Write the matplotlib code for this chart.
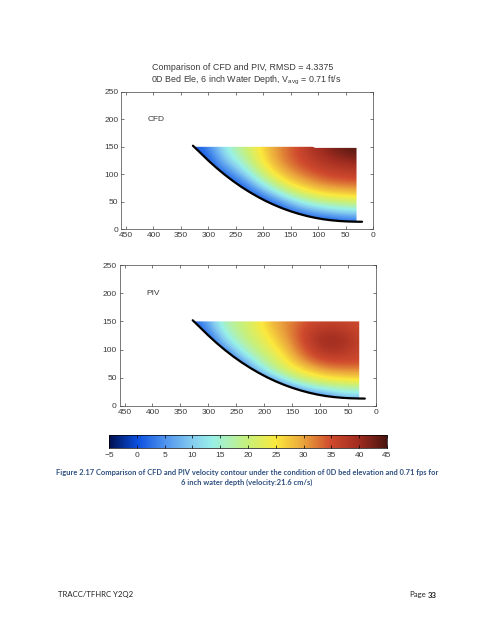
import numpy as np
import matplotlib
matplotlib.use("Agg")
import matplotlib.pyplot as plt
from matplotlib.colors import LinearSegmentedColormap
from matplotlib.patches import Polygon

plt.rcParams['font.family'] = ['Liberation Sans', 'DejaVu Sans']

W, H = 495, 640

# bed curve
bed_x = [328, 315, 300, 285, 270, 255, 240, 225, 210, 195, 180, 165, 150, 135, 120, 105, 90, 75, 60, 45, 30, 20]
bed_y = [152, 139.5, 125, 111.5, 99, 87.5, 77, 67.5, 58.8, 50.9, 43.9, 37.7, 32.3, 27.6, 23.6, 20.3, 17.7, 15.8, 14.5, 13.7, 13.3, 13.2]

x_stations = [330, 300, 270, 240, 210, 180, 150, 120, 90, 60, 30]
y_stations = [0, 15, 30, 45, 60, 75, 90, 105, 120, 135, 150]

# rows are y_stations, columns are x_stations
cfd_rows = [
    [0, 0, 0, 0, 0, 0, 0, 0, 0, 0, 0],
    [0, 0, 0, 0, 0, 0, 0, 0, 0, 2, 3],
    [0, 0, 0, 0, 0, 0, 1, 5, 8, 10, 11],
    [0, 0, 0, 0, 0, 1, 8, 13.5, 16.5, 18, 19],
    [0, 0, 0, 0, 1, 9, 16.5, 21, 24, 25, 26],
    [0, 0, 0, 0, 8, 17, 23, 27, 29.5, 30.5, 31],
    [0, 0, 0, 5, 15, 22.5, 28, 31, 33.5, 34.5, 35],
    [0, 0, 3, 11, 19.5, 26.5, 31, 34, 36, 37, 37.5],
    [0, 0, 8, 15, 22.5, 29, 33, 36, 38, 39.5, 40.5],
    [0, 2, 11.5, 18, 24, 30, 34, 37, 40, 42, 43],
    [0, 4, 13.5, 19, 24.5, 30.5, 33.5, 37.5, 41, 43, 44.5],
]
piv_rows = [
    [0, 0, 0, 0, 0, 0, 0, 0, 0, 0, 0],
    [0, 0, 0, 0, 0, 0, 0, 0, 3, 9, 10],
    [0, 0, 0, 0, 0, 0, 4, 11, 14, 16, 16],
    [0, 0, 0, 0, 0, 6, 16, 20, 23, 24, 25],
    [0, 0, 0, 0, 7, 17, 22, 26, 29, 30, 30],
    [0, 0, 0, 3, 15, 20.5, 26, 31, 34, 34.5, 34.5],
    [0, 0, 0, 11.5, 18.5, 22.5, 29, 34.5, 37, 37, 35.5],
    [0, 0, 6.5, 16, 20.5, 25, 31, 36, 39.5, 39, 36],
    [0, 0, 12, 18.5, 22, 27, 32, 37, 40, 39.5, 36],
    [0, 4, 15.5, 19.5, 23.5, 28.5, 32.5, 36.5, 38, 37.5, 35.5],
    [0, 7, 17, 20, 24, 29.5, 32, 35, 36, 36, 35],
]

tick_x = [450, 400, 350, 300, 250, 200, 150, 100, 50, 0]
tick_y = [0, 50, 100, 150, 200, 250]
cbar_ticks = [-5, 0, 5, 10, 15, 20, 25, 30, 35, 40, 45]

cmap = LinearSegmentedColormap.from_list('bar', [
    (0.0, '#00104f'), (0.10, '#0a4fe0'), (0.20, '#4f93ee'), (0.30, '#86cdf0'),
    (0.37, '#98f0e8'), (0.50, '#c8f07a'), (0.60, '#fbe93e'), (0.70, '#eaa43c'),
    (0.80, '#cf4a2e'), (0.90, '#a02c20'), (1.0, '#4a1510')])

TXT = '#3a3a3a'
fig = plt.figure(figsize=(W / 100, H / 100), dpi=100)


def axes_px(l, t, r, b):
    return fig.add_axes([l / W, 1 - b / H, (r - l) / W, (b - t) / H])


def draw_panel(ax, rows, label, top_right):
    # half a station past the outer stations so the cells line up with them
    im = ax.imshow(np.array(rows, dtype=float), cmap=cmap, vmin=-5, vmax=45, origin='lower',
                   interpolation='bicubic', aspect='auto', extent=[345, 15, -7.5, 157.5])
    # field stops at x=30 and at the top of the water
    outline = list(zip(bed_x[:-1], bed_y[:-1])) + [(30, top_right)]
    if top_right < 150:
        outline += [(105, top_right), (110, 150)]
    outline += [(bed_x[0], 150)]
    im.set_clip_path(Polygon(outline, transform=ax.transData))
    ax.plot(bed_x, bed_y, color='black', lw=1.6, solid_capstyle='round')
    ax.set_xlim(459, 0)
    ax.set_ylim(0, 250)
    ax.set_xticks(tick_x)
    ax.set_yticks(tick_y)
    ax.tick_params(direction='in', length=2.5, width=0.5, labelsize=6, pad=2,
                   top=True, right=True, color='#444444', labelcolor=TXT)
    for s in ax.spines.values():
        s.set_linewidth(0.5)
        s.set_color('#444444')
    ax.text(411, 200, label, fontsize=6, color=TXT, va='center')


ax1 = axes_px(121, 92, 373, 229)
draw_panel(ax1, cfd_rows, 'CFD', 148)
ax2 = axes_px(119.5, 265, 376, 406)
draw_panel(ax2, piv_rows, 'PIV', 150)

fig.text(242.5 / W, 1 - 67.5 / H, 'Comparison of CFD and PIV, RMSD = 4.3375', fontsize=6.4,
         color=TXT, ha='center', va='center')
fig.text(246 / W, 1 - 80 / H, '0D Bed Ele, 6 inch Water Depth, V$_{\\mathregular{avg}}$ = 0.71 ft/s',
         fontsize=6.4, color=TXT, ha='center', va='center')

cax = axes_px(109, 435, 387, 448)
cax.imshow(np.linspace(-5, 45, 256)[None, :], cmap=cmap, vmin=-5, vmax=45, aspect='auto',
           extent=[-5, 45, 0, 1])
cax.set_yticks([])
cax.set_xticks(cbar_ticks)
cax.set_xticklabels([str(t).replace('-', '\u2212') for t in cbar_ticks])
cax.tick_params(direction='in', length=2, width=0.5, labelsize=6, pad=3, top=True, labelcolor=TXT)
for s in cax.spines.values():
    s.set_linewidth(0.5)

cap = '#2f4f80'
fig.text(247 / W, 1 - 472.7 / H,
         'Figure 2.17 Comparison of CFD and PIV velocity contour under the condition of 0D bed elevation and 0.71 fps for',
         fontsize=5.4, fontweight='bold', color=cap, ha='center', va='center', family='Lato')
fig.text(247 / W, 1 - 482.7 / H, '6 inch water depth (velocity:21.6 cm/s)',
         fontsize=5.4, fontweight='bold', color=cap, ha='center', va='center', family='Lato')
fig.text(58 / W, 1 - 595 / H, 'TRACC/TFHRC Y2Q2', fontsize=5.6, color='#222222', va='center', family='Lato')
fig.text(409 / W, 1 - 595 / H, 'Page', fontsize=5.6, color='#222222', va='center', family='Lato')
fig.text(428 / W, 1 - 595 / H, '33', fontsize=5.6, fontweight='bold', color='#222222', va='center', family='Lato')

fig.savefig('out.png', dpi=100)
